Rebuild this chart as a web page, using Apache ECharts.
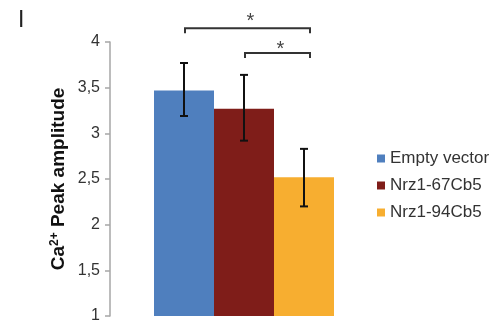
<!DOCTYPE html>
<html>
<head>
<meta charset="utf-8">
<script src="https://cdn.jsdelivr.net/npm/echarts@6/dist/echarts.min.js"></script>
<style>
  html, body { margin: 0; padding: 0; background: #fff; }
  #chart { width: 489px; height: 321px; }
</style>
</head>
<body>
<div id="chart"></div>
<script>
// data
const groups = ["Empty vector", "Nrz1-67Cb5", "Nrz1-94Cb5"];
const means = [3.47, 3.27, 2.52];
const errLow = [3.19, 2.92, 2.20];
const errHigh = [3.77, 3.64, 2.83];
const colors = ["#4f7fbe", "#7f1d19", "#f7ae30"];
// significance brackets: [from index, to index, bracket level, star level]
const sigPairs = [[0, 2, 4.15, 4.28], [1, 2, 3.88, 3.97]];
const yTicks = { min: 1, max: 4, step: 0.5 };

const chart = echarts.init(document.getElementById("chart"));
const font = "'Liberation Sans', Arial, sans-serif";

function renderErr(params, api) {
  const i = api.value(0);
  const lo = api.coord([i, api.value(1)]);
  const hi = api.coord([i, api.value(2)]);
  const cap = 4;
  const style = { stroke: "#111", lineWidth: 2 };
  return {
    type: "group",
    children: [
      { type: "line", shape: { x1: hi[0], y1: hi[1], x2: lo[0], y2: lo[1] }, style },
      { type: "line", shape: { x1: hi[0] - cap, y1: hi[1], x2: hi[0] + cap, y2: hi[1] }, style },
      { type: "line", shape: { x1: lo[0] - cap, y1: lo[1], x2: lo[0] + cap, y2: lo[1] }, style },
    ],
  };
}

function renderSig(params, api) {
  const a = api.coord([api.value(0), api.value(2)]);
  const b = api.coord([api.value(1), api.value(2)]);
  const s = api.coord([api.value(1), api.value(3)]);
  const x1 = a[0] + 1, x2 = b[0] + 6, y = a[1], leg = 5;
  const style = { stroke: "#333", lineWidth: 2, fill: null };
  return {
    type: "group",
    children: [
      { type: "polyline", shape: { points: [[x1, y + leg], [x1, y], [x2, y], [x2, y + leg]] }, style },
      {
        type: "text",
        style: {
          text: "*", x: (x1 + x2) / 2 + 3, y: s[1] + 5,
          align: "center", verticalAlign: "middle",
          fontSize: 20, fontFamily: font, fill: "#444",
        },
      },
    ],
  };
}

const barSeries = groups.map((name, k) => ({
  name: name,
  type: "bar",
  stack: "g",
  barWidth: "100%",
  itemStyle: { color: colors[k] },
  data: means.map((v, i) => (i === k ? v : "-")),
}));

const option = {
  animation: false,
  title: {
    text: "I",
    left: 18,
    top: 9,
    padding: 0,
    textStyle: { fontSize: 23, fontWeight: "normal", color: "#222", fontFamily: font },
  },
  legend: {
    orient: "vertical",
    left: 372,
    top: 145,
    itemWidth: 8,
    itemHeight: 8,
    itemGap: 10,
    icon: "rect",
    data: groups,
    textStyle: { fontSize: 17, lineHeight: 16, color: "#333", fontFamily: font },
  },
  grid: { left: 154, right: 155, top: 42, bottom: 5, containLabel: false, outerBoundsMode: "none" },
  xAxis: {
    type: "category",
    data: groups,
    show: false,
  },
  yAxis: {
    type: "value",
    min: yTicks.min,
    max: yTicks.max,
    interval: yTicks.step,
    offset: 44,
    name: "{b|Ca}{s|2+}{b| Peak amplitude}",
    nameLocation: "middle",
    nameGap: 42,
    nameRotate: 90,
    nameTextStyle: {
      rich: {
        b: { fontSize: 19, fontWeight: "bold", color: "#111", fontFamily: font },
        s: { fontSize: 12, fontWeight: "bold", color: "#111", fontFamily: font, verticalAlign: "top" },
      },
    },
    axisLine: { show: true, lineStyle: { color: "#a6a6a6", width: 1.5 } },
    axisTick: { show: true, length: 5, lineStyle: { color: "#a6a6a6", width: 1.5 } },
    splitLine: { show: false },
    axisLabel: {
      margin: 10,
      fontSize: 16,
      color: "#333",
      fontFamily: font,
      formatter: (v) => String(v).replace(".", ","),
    },
  },
  series: [
    ...barSeries,
    {
      type: "custom",
      renderItem: renderErr,
      data: groups.map((g, i) => [i, errLow[i], errHigh[i]]),
      z: 10,
    },
    {
      type: "custom",
      renderItem: renderSig,
      clip: false,
      data: sigPairs,
      z: 10,
    },
  ],
};
chart.setOption(option);
window.addEventListener("resize", function () {
  chart.resize();
});
</script>
</body>
</html>
